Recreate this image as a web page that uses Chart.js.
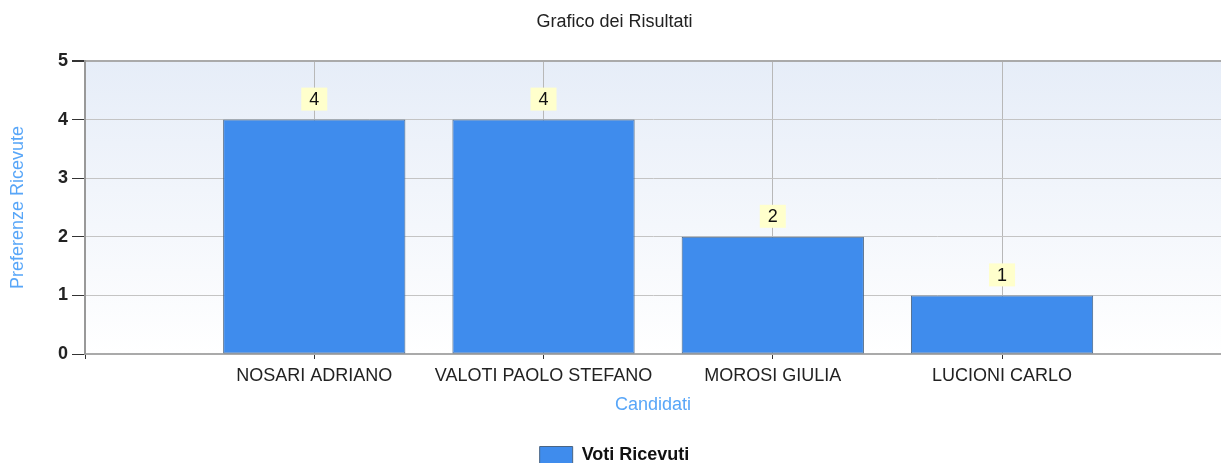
<!DOCTYPE html>
<html>
<head>
<meta charset="utf-8">
<title>Grafico dei Risultati</title>
<script src="https://cdn.jsdelivr.net/npm/chart.js@4/dist/chart.umd.min.js"></script>
<style>
    html, body { margin: 0; padding: 0; background: #ffffff; }
    canvas { display: block; }
</style>
</head>
<body>
<canvas id="resultsChart" width="1221" height="463"></canvas>
<script>
// Results chart: votes per candidate, placed at x = 1..4 on a 0..~5 axis like the original.

const candidates = ['NOSARI ADRIANO', 'VALOTI PAOLO STEFANO', 'MOROSI GIULIA', 'LUCIONI CARLO'];
const votes = [4, 4, 2, 1];
const positions = [1, 2, 3, 4];
const yTicks = [0, 1, 2, 3, 4, 5];
const xMax = 4.955;

const FONT = '"Liberation Sans", Arial, sans-serif';
const chartCanvas = document.getElementById('resultsChart');

// plot area background: light blue at the top fading to white
const plotBackground = {
    id: 'plotBackground',
    beforeDraw(chart) {
        const { ctx, chartArea } = chart;
        const gradient = ctx.createLinearGradient(0, chartArea.top, 0, chartArea.bottom);
        gradient.addColorStop(0, '#e6edf8');
        gradient.addColorStop(1, '#ffffff');
        ctx.save();
        ctx.fillStyle = gradient;
        ctx.fillRect(chartArea.left, chartArea.top, chartArea.right - chartArea.left, chartArea.bottom - chartArea.top);
        ctx.restore();
    }
};

// yellow value boxes above each bar
const valueLabels = {
    id: 'valueLabels',
    afterDatasetsDraw(chart) {
        const { ctx } = chart;
        const meta = chart.getDatasetMeta(0);
        ctx.save();
        ctx.font = '18px ' + FONT;
        ctx.textAlign = 'center';
        ctx.textBaseline = 'middle';
        meta.data.forEach((bar, i) => {
            const boxW = 26;
            const boxH = 23;
            const boxBottom = bar.y - 9;
            ctx.fillStyle = '#ffffcc';
            ctx.fillRect(bar.x - boxW / 2, boxBottom - boxH, boxW, boxH);
            ctx.fillStyle = '#111111';
            ctx.fillText(String(votes[i]), bar.x, boxBottom - boxH / 2 + 1);
        });
        ctx.restore();
    }
};

new Chart(chartCanvas, {
    type: 'bar',
    data: {
        datasets: [
            {
                label: 'Voti Ricevuti',
                data: positions.map((x, i) => ({ x, y: votes[i] })),
                backgroundColor: '#3f8ced',
                borderColor: '#4a6584',
                borderWidth: 1,
                borderSkipped: false,
                categoryPercentage: 1,
                barPercentage: 0.795,
            }
        ]
    },
    options: {
        responsive: false,
        devicePixelRatio: 1,
        animation: false,
        layout: {
            padding: { top: 0, left: 8, right: 0, bottom: -11 }
        },
        plugins: {
            title: {
                display: true,
                text: 'Grafico dei Risultati',
                color: '#222222',
                font: { family: FONT, size: 18, weight: 'normal', lineHeight: 1.2 },
                padding: { top: 11.5, bottom: 27.9 }
            },
            legend: {
                position: 'bottom',
                labels: {
                    color: '#111111',
                    font: { family: FONT, size: 18, weight: 'bold' },
                    boxWidth: 33,
                    boxHeight: 17,
                    padding: 10
                }
            },
            tooltip: { enabled: false }
        },
        scales: {
            x: {
                type: 'linear',
                min: 0,
                max: xMax,
                offset: false,
                afterBuildTicks(scale) {
                    scale.ticks = [0].concat(positions).map(v => ({ value: v }));
                },
                grid: {
                    offset: false,
                    color: '#b8b8b8',
                    lineWidth: 1,
                    tickLength: 5,
                    tickColor: '#333333'
                },
                border: { color: '#aaaaaa', width: 2 },
                ticks: {
                    color: '#222222',
                    font: { family: FONT, size: 18 },
                    padding: 6,
                    maxRotation: 0,
                    autoSkip: false,
                    callback: value => candidates[positions.indexOf(value)] || ''
                },
                title: {
                    display: true,
                    text: 'Candidati',
                    color: '#58a6f8',
                    font: { family: FONT, size: 18 },
                    padding: { top: 0, bottom: 20 }
                },
                afterFit(scale) {
                    scale.height = 82;
                }
            },
            y: {
                min: yTicks[0],
                max: yTicks[yTicks.length - 1],
                afterBuildTicks(scale) {
                    scale.ticks = yTicks.map(v => ({ value: v }));
                },
                grid: {
                    color: ctx => (ctx.tick && ctx.tick.value === 5 ? '#aaaaaa' : '#c4c4c4'),
                    lineWidth: ctx => (ctx.tick && ctx.tick.value === 5 ? 2 : 1),
                    tickLength: 13,
                    tickColor: '#333333'
                },
                border: { color: '#999999', width: 2 },
                ticks: {
                    color: '#222222',
                    font: { family: FONT, size: 18, weight: 'bold' },
                    padding: 4
                },
                title: {
                    display: true,
                    text: 'Preferenze Ricevute',
                    color: '#58a6f8',
                    font: { family: FONT, size: 18 },
                    padding: { top: -1, bottom: 0 }
                },
                afterFit(scale) {
                    scale.width = 77;
                }
            }
        }
    },
    plugins: [plotBackground, valueLabels]
});
</script>
</body>
</html>
